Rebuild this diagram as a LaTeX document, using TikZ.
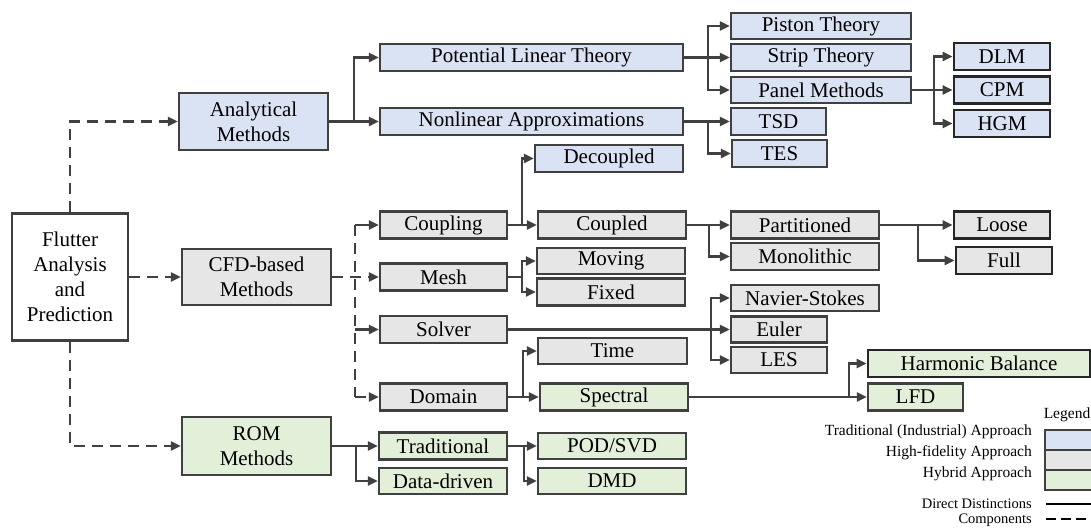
\documentclass[tikz,border=0pt]{standalone}
\usepackage{fontspec}
\setmainfont{Liberation Serif}
\usetikzlibrary{arrows.meta}
\definecolor{lc}{HTML}{404040}
\definecolor{cblue}{HTML}{DAE3F3}
\definecolor{cgray}{HTML}{E6E6E6}
\definecolor{cgreen}{HTML}{E2F0D9}
\tikzset{
  bx/.style={draw=lc, line width=2.3pt, inner sep=0pt, align=center,
    font=\fontsize{21}{25}\selectfont},
  dk/.style={draw=black!85, line width=2.6pt},
  bl/.style={bx, fill=cblue},
  gr/.style={bx, fill=cgray},
  gn/.style={bx, fill=cgreen},
  ar/.style={draw=lc, line width=2.3pt, -{Triangle[length=10pt,width=9pt]}},
  da/.style={ar, dash pattern=on 11pt off 7pt},
  ln/.style={draw=lc, line width=2.3pt},
  lg/.style={font=\fontsize{15.5}{18}\selectfont, inner sep=0pt},
  lgs/.style={font=\fontsize{14.5}{16}\selectfont, inner sep=0pt},
}
\newcommand{\bxn}[6]{\node[#1, minimum width=#4pt, minimum height=#5pt] (#2) at (#3) {#6};}
\begin{document}
\begin{tikzpicture}[x=1pt, y={(0pt,-1pt)}]
\useasboundingbox (0,0) rectangle (1091,527);
% nodes
\bxn{bx}{flut}{70,277}{116}{127}{Flutter\\Analysis\\and\\Prediction}
\bxn{bl}{analyt}{253.5,121.5}{149}{57}{Analytical\\Methods}
\bxn{gr}{cfd}{256.5,277}{149}{56}{CFD-based\\Methods}
\bxn{gn}{rom}{256.5,446}{149}{58}{ROM\\Methods}
\bxn{bl}{plt}{531.5,57.5}{303}{27}{Potential Linear Theory}
\bxn{bl}{nla}{531.5,121.5}{303}{27}{Nonlinear Approximations}
\bxn{bl}{piston}{821,26}{180}{26}{Piston Theory}
\bxn{bl}{strip}{821,57.5}{180}{27}{Strip Theory}
\bxn{bl}{panel}{821,90}{180}{26}{Panel Methods}
\bxn{bl}{tsd}{778.5,121.5}{95}{27}{TSD}
\bxn{bl}{tes}{779.5,153.5}{95}{27}{TES}
\bxn{bl,dk}{dlm}{1002,56.5}{96}{27}{DLM}
\bxn{bl,dk}{cpm}{1002,90}{96}{27}{CPM}
\bxn{bl,dk}{hgm}{1002,123.5}{96}{27}{HGM}
\bxn{bl}{decoup}{609,158.5}{148}{27}{Decoupled}
\bxn{gr}{coupling}{443.5,225}{127}{27}{Coupling}
\bxn{gr}{coupled}{612,225}{148}{27}{Coupled}
\bxn{gr}{mesh}{443.5,277}{127}{27}{Mesh}
\bxn{gr}{moving}{611,261}{148}{26}{Moving}
\bxn{gr}{fixed}{611,292}{148}{27}{Fixed}
\bxn{gr}{solver}{443.5,329.5}{127}{27}{Solver}
\bxn{gr}{time}{612.5,351}{149}{26}{Time}
\bxn{gr}{domain}{443.5,397}{127}{27}{Domain}
\bxn{gn}{spectral}{614,397}{148}{27}{Spectral}
\bxn{gr}{part}{805,225}{148}{27}{Partitioned}
\bxn{gr}{mono}{805,256.5}{148}{27}{Monolithic}
\bxn{gr,dk}{loose}{1002,225}{96}{27}{Loose}
\bxn{gr,dk}{full}{1004,260.5}{96}{27}{Full}
\bxn{gr}{ns}{805,298}{148}{26}{Navier-Stokes}
\bxn{gr}{euler}{779,329.5}{96}{26}{Euler}
\bxn{gr}{les}{779,360}{96}{26}{LES}
\bxn{gn,dk}{hb}{979,363.5}{222}{27}{Harmonic Balance}
\bxn{gn}{lfd}{915.5,397}{95}{27}{LFD}
\bxn{gn}{trad}{443,446}{128}{27}{Traditional}
\bxn{gn}{datad}{443,481}{128}{26}{Data-driven}
\bxn{gn}{pod}{612,446}{148}{26}{POD/SVD}
\bxn{gn}{dmd}{612,481}{148}{26}{DMD}
% dashed components
\draw[da] (flut.north) |- (analyt.west);
\draw[da] (flut.east) -- (cfd.west);
\draw[da] (flut.south) |- (rom.west);
\coordinate (cv1) at (355,225);
\coordinate (cv2) at (355,397);
\draw[ln, dash pattern=on 11pt off 7pt] (cv1) -- (cv2);
\draw[da] (cfd.east) -- (mesh.west);
\draw[ar] (cv1) -- (coupling.west);
\draw[ar] (cv2 |- solver.west) -- (solver.west);
\draw[da] (cv2) -- (domain.west);
% direct distinctions
\draw[ar] (analyt.east) -- ++(25,0) |- (plt.west);
\draw[ar] (analyt.east) -- (nla.west);
\draw[ar] (plt.east) -- ++(24,0) |- (piston.west);
\draw[ar] (plt.east) -- (strip.west);
\draw[ar] (plt.east) -- ++(24,0) |- (panel.west);
\draw[ar] (nla.east) -- (tsd.west);
\draw[ar] (nla.east) -- ++(24,0) |- (tes.west);
\draw[ar] (panel.east) -- ++(22,0) |- (dlm.west);
\draw[ar] (panel.east) -- (cpm.west);
\draw[ar] (panel.east) -- ++(22,0) |- (hgm.west);
\draw[ar] (coupling.east) -- ++(14,0) |- (decoup.west);
\draw[ar] (coupling.east) -- (coupled.west);
\draw[ar] (coupled.east) -- (part.west);
\draw[ar] (coupled.east) -- ++(22,0) |- (mono.west);
\draw[ar] (part.east) -- (loose.west);
\draw[ar] (part.east) -- ++(38,0) |- (full.west);
\draw[ar] (mesh.east) -- ++(14,0) |- (moving.west);
\draw[ar] (mesh.east) -- ++(14,0) |- (fixed.west);
\draw[ar] (solver.east) -- (euler.west);
\draw[ar] (solver.east) -- ++(203,0) |- (ns.west);
\draw[ar] (solver.east) -- ++(203,0) |- (les.west);
\draw[ar] (domain.east) -- ++(15,0) |- (time.west);
\draw[ar] (domain.east) -- (spectral.west);
\draw[ar] (spectral.east) -- (lfd.west);
\draw[ar] (spectral.east) -- ++(160,0) |- (hb.west);
\draw[ar] (rom.east) -- (trad.west);
\draw[ar] (rom.east) -- ++(24,0) |- (datad.west);
\draw[ar] (trad.east) -- (pod.west);
\draw[ar] (trad.east) -- ++(16,0) |- (dmd.west);
% legend
\node[lg] (lgt) at (1067,415) {Legend};
\node[draw=lc, line width=2pt, fill=cblue, minimum width=60pt, minimum height=20pt, inner sep=0pt, anchor=north west] (lgb) at (1044,429) {};
\node[draw=lc, line width=2pt, fill=cgray, minimum width=60pt, minimum height=20pt, inner sep=0pt, anchor=north west] (lgg) at (1044,449) {};
\node[draw=lc, line width=2pt, fill=cgreen, minimum width=60pt, minimum height=20pt, inner sep=0pt, anchor=north west] (lgn) at (1044,469) {};
\node[lg, anchor=east] (t1) at (1032,432) {Traditional (Industrial) Approach};
\node[lg, anchor=east] (t2) at (1032,453) {High-fidelity Approach};
\node[lg, anchor=east] (t3) at (1032,474) {Hybrid Approach};
\node[lgs, anchor=base east] (t4) at (1032,508) {Direct Distinctions};
\node[lgs, anchor=base east] (t5) at (1032,523) {Components};
\coordinate (l1a) at (1046,504);
\coordinate (l1b) at (1095,504);
\coordinate (l2a) at (1046,519);
\coordinate (l2b) at (1095,519);
\draw[ln, draw=black] (l1a) -- (l1b);
\draw[ln, draw=black, dash pattern=on 10pt off 5pt] (l2a) -- (l2b);
\end{tikzpicture}
\end{document}
